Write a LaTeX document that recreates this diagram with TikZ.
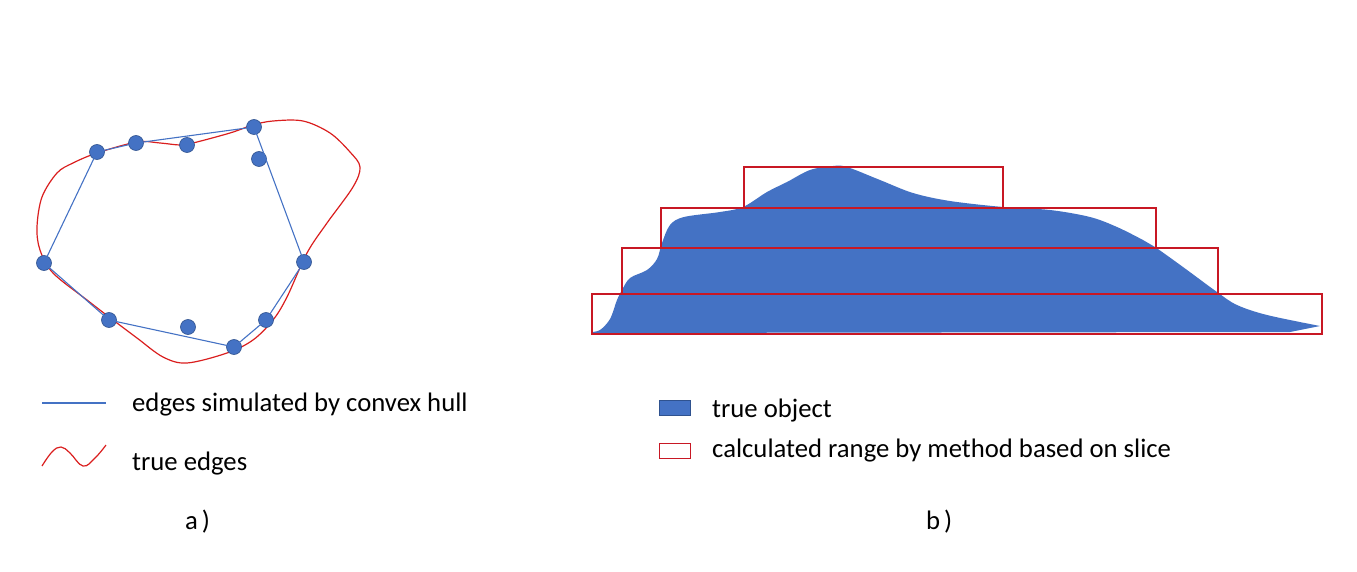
\documentclass[tikz,border=0pt]{standalone}
\usepackage{fontspec}
\setmainfont{Carlito}
\definecolor{objblue}{HTML}{4472C4}
\definecolor{objedge}{HTML}{2F528F}
\definecolor{curvered}{RGB}{218,30,30}
\definecolor{boxred}{RGB}{200,24,36}
\tikzset{
  dot/.style={circle,fill=objblue,draw=objedge,line width=0.6,minimum size=15,inner sep=0},
  hull/.style={draw=objblue,line width=1.1},
  trueedge/.style={draw=curvered,line width=1.2},
  slicebox/.style={draw=boxred,line width=1.6},
  lbl/.style={anchor=base west,inner sep=0,font=\fontsize{26.7}{30}\selectfont},
  caption/.style={anchor=base west,inner sep=0,font=\fontsize{26.7}{30}\selectfont}
}
\begin{document}
\begin{tikzpicture}[x=1pt,y=-1pt]
\useasboundingbox (0,0) rectangle (1357,572);
% ---------- panel a ----------
\draw[trueedge] plot[smooth cycle,tension=0.55] coordinates {
 (273,121) (303,121) (330,133) (350,152) (360,167) (353,187) (327,223)
 (307,253) (287,297) (273,320) (253,340) (227,353) (187,363) (163,357)
 (137,338) (113,320) (87,300) (53,273) (40,250) (37,227) (42,197)
 (57,173) (73,163) (97,153) (137,142) (160,143) (180,145) (193,143)
 (230,133) (253,125)};
\node[dot] (p1) at (97,152) {};
\node[dot] (p2) at (136,143) {};
\node[dot] (p3) at (187,145) {};
\node[dot] (p4) at (254,127) {};
\node[dot] (p5) at (259,159) {};
\node[dot] (p6) at (44,263) {};
\node[dot] (p7) at (304,262) {};
\node[dot] (p8) at (109,320) {};
\node[dot] (p9) at (188,327) {};
\node[dot] (p10) at (266,320) {};
\node[dot] (p11) at (234,347) {};
\draw[hull] (p1.center) -- (p2.center) -- (p4.center) -- (p7.center)
  -- (p10.center) -- (p11.center) -- (p8.center) -- (p6.center) -- cycle;
% legend a
\coordinate (la1) at (42,403);
\coordinate (la2) at (106,403);
\draw[hull] (la1) -- (la2);
\node[lbl] (ta1) at (132,411) {edges simulated by convex hull};
\draw[trueedge] plot[smooth,tension=0.7] coordinates {(42,466) (52,452) (61,447) (70,453) (83,466) (95,458) (106,445)};
\node[lbl] (ta2) at (132,470) {true edges};
\node[caption] (capa) at (185,529) {a\hspace{4pt})};
% ---------- panel b ----------
\fill[objblue] plot[smooth,tension=0.55] coordinates {
 (591,332) (600,330) (610,319) (617,300) (622,290) (630,278) (647,270)
 (657,259) (662,243) (670,225) (684,217) (720,212) (743,207) (767,192)
 (787,182) (810,170) (833,166) (847,167) (880,180) (913,193) (950,201)
 (1003,207) (1050,210) (1090,217) (1117,227) (1143,240) (1155,247)
 (1183,267) (1217,292) (1237,305) (1267,315) (1320,326)}
 -- (1290,332) -- (591,333) -- cycle;
\node[slicebox,inner sep=0,minimum width=730,minimum height=40,anchor=north west] (s1) at (591,293) {};
\node[slicebox,inner sep=0,minimum width=596,minimum height=46,anchor=north west] (s2) at (621,247) {};
\node[slicebox,inner sep=0,minimum width=495,minimum height=40,anchor=north west] (s3) at (660,207) {};
\node[slicebox,inner sep=0,minimum width=259,minimum height=41,anchor=north west] (s4) at (743,166) {};
% legend b
\node[fill=objblue,draw=objedge,line width=0.6,inner sep=0,minimum width=31,minimum height=15,anchor=north west] (kb1) at (659,400) {};
\node[lbl] (tb1) at (712,417) {true object};
\node[draw=boxred,line width=1.1,inner sep=0,minimum width=31,minimum height=15,anchor=north west] (kb2) at (659,443) {};
\node[lbl] (tb2) at (712,457) {calculated range by method based on slice};
\node[caption] (capb) at (926,529) {b\hspace{4pt})};
\end{tikzpicture}
\end{document}
